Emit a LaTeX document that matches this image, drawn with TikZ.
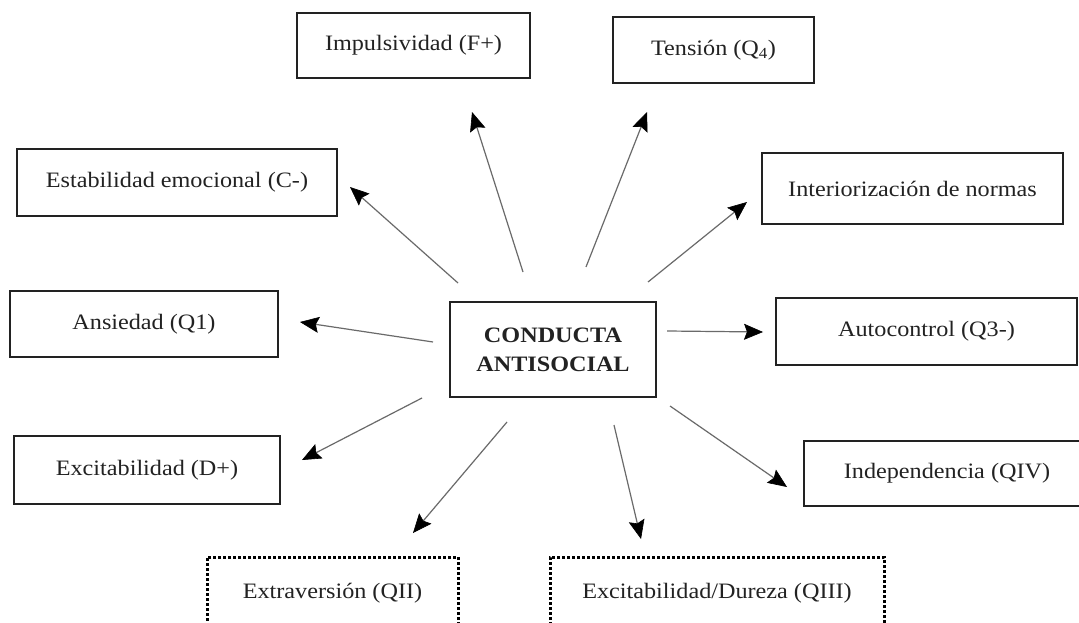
\documentclass[tikz,border=0pt]{standalone}
\usepackage{fontspec}
\setmainfont{Liberation Serif}[FakeStretch=1.1]
\usetikzlibrary{arrows.meta}
\definecolor{ink}{HTML}{222222}
\definecolor{linegray}{HTML}{6A6A6A}
\tikzset{
  box/.style={draw=ink, line width=2bp, text=ink, inner sep=0pt, align=center,
    font=\fontsize{22bp}{29bp}\selectfont},
  dotbox/.style={box, draw=black, line width=3bp, dash pattern=on 3bp off 2bp},
  arr/.style={draw=linegray, line width=1.2bp,
    -{Stealth[length=19bp, width=16bp, inset=3bp, color=black, fill=black, line width=0.6bp]}},
}
\begin{document}
\begin{tikzpicture}[x=1bp, y=-1bp]
\useasboundingbox (0,0) rectangle (1079,623);
\fill[white] (0,0) rectangle (1079,623);

\node[box, minimum width=233bp, minimum height=65bp] (imp) at (413.5,45.5) {Impulsividad (F+)};
\node[box, minimum width=201bp, minimum height=66bp] (ten) at (713.5,50) {Tensión (Q\textsubscript{4})};
\node[box, minimum width=320bp, minimum height=67bp] (est) at (177,182.5) {Estabilidad emocional (C-)};
\node[box, minimum width=301bp, minimum height=71bp] (int) at (912.5,188.5) {Interiorización de normas};
\node[box, minimum width=268bp, minimum height=66bp] (ans) at (144,324) {Ansiedad (Q1)};
\node[box, minimum width=206bp, minimum height=95bp] (con) at (553,349.5) {\textbf{CONDUCTA}\\\textbf{ANTISOCIAL}};
\node[box, minimum width=301bp, minimum height=67bp] (aut) at (926.5,331.5) {Autocontrol (Q3-)};
\node[box, minimum width=266bp, minimum height=68bp] (exc) at (147,470) {Excitabilidad (D+)};
\node[box, minimum width=286bp, minimum height=65bp] (ind) at (947,473.5) {Independencia (QIV)};
\node[dotbox, minimum width=251bp, minimum height=72bp] (ext) at (332.5,593) {Extraversión (QII)};
\node[dotbox, minimum width=334bp, minimum height=72bp] (exd) at (717,593) {Excitabilidad/Dureza (QIII)};

\coordinate (s1) at (458,283); \coordinate (t1) at (350,187);
\coordinate (s2) at (523,272); \coordinate (t2) at (472,112);
\coordinate (s3) at (586,267); \coordinate (t3) at (647,112);
\coordinate (s4) at (648,282); \coordinate (t4) at (747,202);
\coordinate (s5) at (433,342); \coordinate (t5) at (300,322);
\coordinate (s6) at (667,331); \coordinate (t6) at (763,332);
\coordinate (s7) at (422,398); \coordinate (t7) at (302,460);
\coordinate (s8) at (507,422); \coordinate (t8) at (413,533);
\coordinate (s9) at (614,425); \coordinate (t9) at (641,539);
\coordinate (s10) at (670,406); \coordinate (t10) at (787,487);

\foreach \i in {1,...,10} { \draw[arr] (s\i) -- (t\i); }
\end{tikzpicture}
\end{document}
